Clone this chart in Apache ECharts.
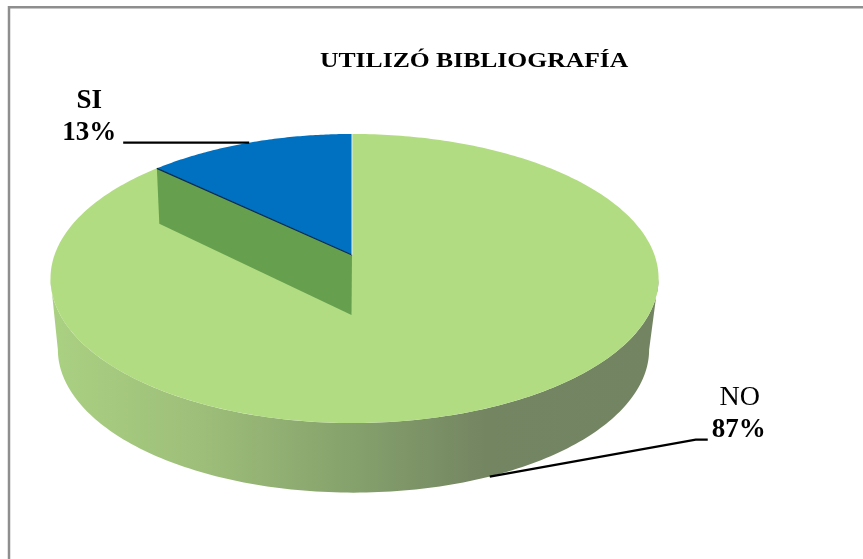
<!DOCTYPE html>
<html><head><meta charset="utf-8">
<style>html,body{margin:0;padding:0;background:#fff}#c{width:863px;height:559px}</style>
<script src="https://cdn.jsdelivr.net/npm/echarts@6/dist/echarts.min.js"></script>
</head><body><div id="c"></div>
<script>
const chartTitle = 'UTILIZÓ BIBLIOGRAFÍA';
const categories = ['NO', 'SI'];
const values = [87, 13];

const total = values.reduce((a, b) => a + b, 0);
const SERIF = '"Liberation Serif","Times New Roman",serif';

// perspective disc: top face, inner base (cut walls) and outer base (rim silhouette)
function project(face, theta) {
  const u = Math.sin(theta), v = Math.cos(theta), w = 1 + face.k * v;
  return [face.cx + (u < 0 ? face.al : face.ar) * u / w, face.cy - face.b * v / w];
}
const TOP = {cx: 352, cy: 255, al: 297.5, ar: 302.5, b: 140.7, k: 0.1626};
const BASE = {cx: 351.5, cy: 315, al: 293, ar: 294, b: 148, k: 0.1626};
const RIM = {cx: 353.5, cy: 315, al: 287, ar: 287, b: 135, k: 0.24};
const TAU = Math.PI * 2;

function arc(face, a0, a1, n) {
  const pts = [];
  for (let i = 0; i <= n; i++) pts.push(project(face, a0 + (a1 - a0) * i / n));
  return pts;
}
function txt(x, y, text, font) {
  return {type: 'text', x, y, style: {text, font: font + ' ' + SERIF, fill: '#000', textAlign: 'center', textVerticalAlign: 'middle'}};
}

function renderSlice(params, api) {
  const idx = params.dataIndex;
  const before = values.slice(0, idx).reduce((a, b) => a + b, 0);
  const a0 = before / total * TAU, a1 = (before + api.value(1)) / total * TAU;
  const mid = (a0 + a1) / 2;
  const pct = Math.round(api.value(1) / total * 100) + '%';
  const name = categories[idx];
  const children = [];
  if (idx === 0) {
    const extT = Math.acos(-TOP.k), extR = Math.acos(-RIM.k);
    const wall = arc(TOP, extT, TAU - extT, 160).concat(arc(RIM, TAU - extR, extR, 160));
    children.push({type: 'polygon', shape: {points: wall}, style: {
      fill: {type: 'linear', global: true, x: 55, y: 0, x2: 652, y2: 0, colorStops: [
        {offset: 0, color: '#AAD082'}, {offset: 0.25, color: '#9DBE79'},
        {offset: 0.5, color: '#85A16C'}, {offset: 0.72, color: '#748562'},
        {offset: 1, color: '#738462'}]}}});
    const top = arc(TOP, a0, a1, 320);
    top.push([TOP.cx, TOP.cy]);
    children.push({type: 'polygon', shape: {points: top}, style: {fill: '#B2DC82'}});
    const e = project(BASE, mid);
    const ex = e[0] + 1, ey = e[1] + 2;
    children.push({type: 'polyline', shape: {points: [[ex, ey], [ex + 206, ey - 37], [ex + 218, ey - 37]]},
      style: {stroke: '#000', lineWidth: 2.4, fill: null}});
    children.push(txt(ex + 250, ey - 79, name, '28px'));
    children.push(txt(ex + 249, ey - 47, pct, 'bold 27px'));
  } else {
    const pA = project(TOP, a0), pB = project(BASE, a0);
    children.push({type: 'polygon', shape: {points: [pA, [TOP.cx, TOP.cy], [BASE.cx, BASE.cy], pB]}, style: {fill: '#66A04E'}});
    const top = arc(TOP, a0, a1, 80);
    top.push([TOP.cx, TOP.cy]);
    children.push({type: 'polygon', shape: {points: top}, style: {fill: '#0070C0'}});
    children.push({type: 'line', shape: {x1: pA[0], y1: pA[1], x2: TOP.cx, y2: TOP.cy}, style: {stroke: '#0A2A50', lineWidth: 1.2}});
    children.push({type: 'line', shape: {x1: TOP.cx, y1: TOP.cy, x2: TOP.cx, y2: TOP.cy - 121}, style: {stroke: '#DCEBF5', lineWidth: 1}});
    const e = project(TOP, mid);
    children.push({type: 'line', shape: {x1: e[0], y1: e[1], x2: e[0] - 126, y2: e[1]}, style: {stroke: '#000', lineWidth: 2.4}});
    children.push(txt(e[0] - 160, e[1] - 42, name, 'bold 27px'));
    children.push(txt(e[0] - 160, e[1] - 10, pct, 'bold 27px'));
  }
  return {type: 'group', children};
}

const chart = echarts.init(document.getElementById('c'), null, {renderer: 'canvas'});
chart.setOption({
  animation: false,
  backgroundColor: '#fff',
  graphic: [
    {type: 'polyline', shape: {points: [[9, 565], [9, 7.3], [870, 7.3]]}, style: {fill: null, stroke: '#8E8E8E', lineWidth: 2.5}, silent: true},
    {type: 'text', x: 320, y: 61, scaleX: 1.165, style: {text: chartTitle, font: 'bold 22px ' + SERIF, fill: '#000', textAlign: 'left', textVerticalAlign: 'middle'}}
  ],
  series: [{type: 'custom', coordinateSystem: 'none', renderItem: renderSlice,
    data: categories.map((c, i) => ({name: c, value: [i, values[i]]}))}]
});
</script></body></html>
